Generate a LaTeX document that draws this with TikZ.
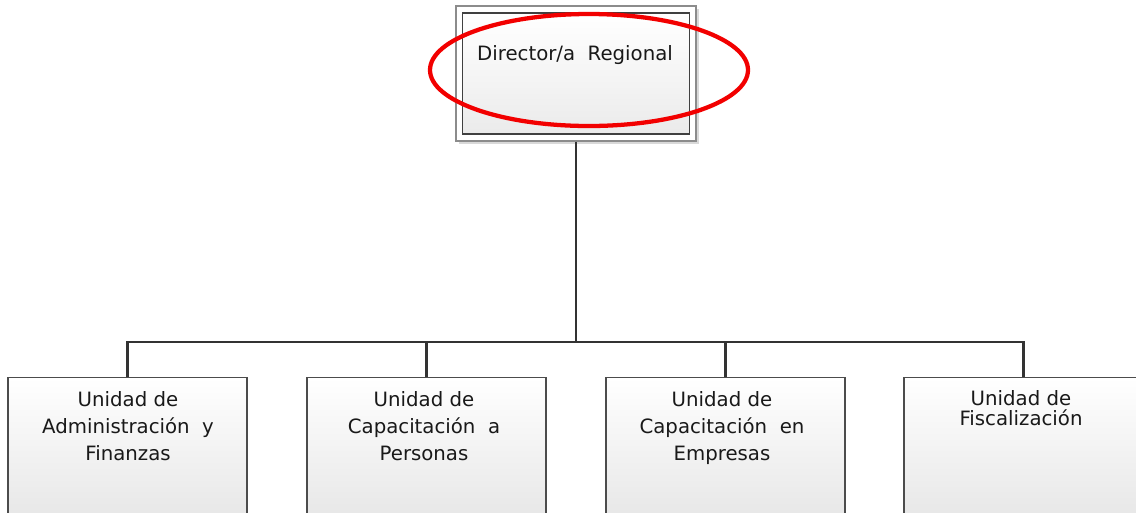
\documentclass[tikz,border=0pt]{standalone}
\usepackage{fontspec}
\setmainfont{DejaVu Sans}
\usetikzlibrary{shadows}
\begin{document}
\begin{tikzpicture}[x=0.75pt,y=-0.75pt,
  conn/.style={draw=black!80, line width=2.2pt},
  unitbox/.style={draw=black!70, line width=1.1pt, top color=white, bottom color=black!10,
     minimum width=179.25pt, minimum height=112pt, inner sep=0pt, anchor=north},
  outerbox/.style={draw=black!45, line width=0.9pt, fill=white,
     minimum width=180pt, minimum height=101.25pt, inner sep=0pt,
     drop shadow={shadow xshift=2pt, shadow yshift=-2pt, fill=black!15, opacity=1}},
  innerbox/.style={draw=black!75, line width=1.1pt, top color=white, bottom color=black!8,
     minimum width=170.25pt, minimum height=90.75pt, inner sep=0pt},
  lbl/.style={font=\fontsize{14.8}{20.2}\selectfont, text=black!90, align=center, inner sep=0pt},
  ring/.style={draw=red!95!black, line width=3.2pt}
]
\useasboundingbox (0,0) rectangle (1136,512);
% top box
\node[outerbox] (dir) at (576,73.5) {};
\node[innerbox] (dirin) at (576,73.5) {};
\node[lbl] (dirt) at (575,55) {Director/a\ \ Regional};
% bus
\coordinate (bus) at (576,342);
% unit boxes
\node[unitbox] (u1) at (127.5,377) {};
\node[unitbox] (u2) at (426.5,377) {};
\node[unitbox] (u3) at (725.5,377) {};
\node[unitbox] (u4) at (1023.5,377) {};
% connectors
\draw[conn] (dir.south) -- (bus);
\draw[conn] (u1.north) |- (bus);
\draw[conn] (u2.north) |- (bus);
\draw[conn] (u3.north) |- (bus);
\draw[conn] (u4.north) |- (bus);
% labels
\node[lbl, anchor=north] (t1) at (128,391) {Unidad de\\Administración\ \ y\\Finanzas};
\node[lbl, anchor=north] (t2) at (424,391) {Unidad de\\Capacitación\ \ a\\Personas};
\node[lbl, anchor=north] (t3) at (722,391) {Unidad de\\Capacitación\ \ en\\Empresas};
\node[lbl, anchor=north, font=\fontsize{14.8}{15.2}\selectfont] (t4) at (1021,390) {Unidad de\\Fiscalización};
% red ellipse
\draw[ring] (589,70) ellipse [x radius=159, y radius=56];
\end{tikzpicture}
\end{document}
